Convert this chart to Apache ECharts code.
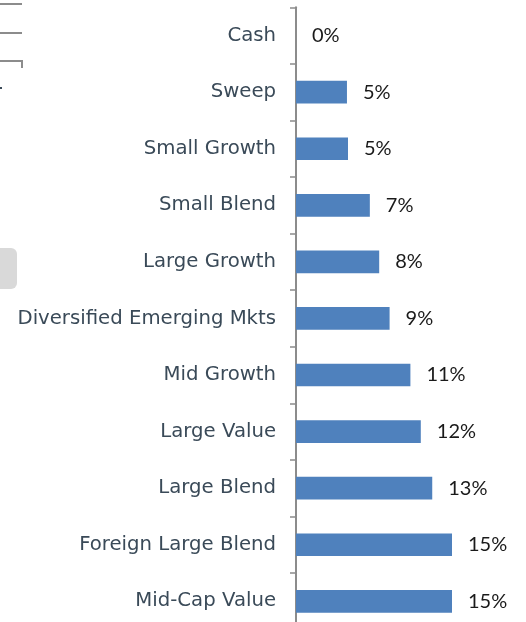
<!DOCTYPE html>
<html><head><meta charset="utf-8">
<script src="https://cdn.jsdelivr.net/npm/echarts@6/dist/echarts.min.js"></script>
<style>html,body{margin:0;padding:0;background:#fff}#c{width:526px;height:622px}</style>
</head><body><div id="c"></div>
<script>
const categories = ["Cash","Sweep","Small Growth","Small Blend","Large Growth","Diversified Emerging Mkts","Mid Growth","Large Value","Large Blend","Foreign Large Blend","Mid-Cap Value"];
const values = [0, 4.9, 5.0, 7.1, 8.0, 9.0, 11.0, 12.0, 13.1, 15.0, 15.0];

const chart = echarts.init(document.getElementById('c'), null, {renderer:'canvas'});
chart.setOption({
  animation:false,
  grid:{left:296, width:208, top:7.3, height:622.3, containLabel:false, outerBoundsMode:'none'},
  xAxis:{type:'value', min:0, max:20, show:false},
  yAxis:{type:'category', data:categories, inverse:true,
    axisLine:{show:true, lineStyle:{color:'#8c8c8c', width:2}},
    axisTick:{show:true, length:6, lineStyle:{color:'#8c8c8c', width:1.5}},
    axisLabel:{margin:20, color:'#3a4a58', fontFamily:'DejaVu Sans', fontSize:19.7}
  },
  series:[{type:'bar', data:values, barWidth:22.7,
    itemStyle:{color:'#4f81bd'},
    label:{show:true, position:'right', distance:16, color:'#1a1a1a', fontFamily:'Lato', fontSize:20,
      formatter:p=>Math.round(p.value)+'%'}
  }],
  graphic:[
    {type:'line', shape:{x1:0,y1:4,x2:22,y2:4}, style:{stroke:'#8c8c8c', lineWidth:2}},
    {type:'line', shape:{x1:0,y1:33,x2:22,y2:33}, style:{stroke:'#8c8c8c', lineWidth:2}},
    {type:'polyline', shape:{points:[[0,61],[22,61],[22,68]]}, style:{stroke:'#8c8c8c', lineWidth:2, fill:null}},
    {type:'rect', shape:{x:0,y:87,width:2,height:2}, style:{fill:'#3a4a58'}},
    {type:'rect', shape:{x:-10,y:248,width:27,height:41,r:6}, style:{fill:'#d9d9d9'}}
  ]
});
</script></body></html>
